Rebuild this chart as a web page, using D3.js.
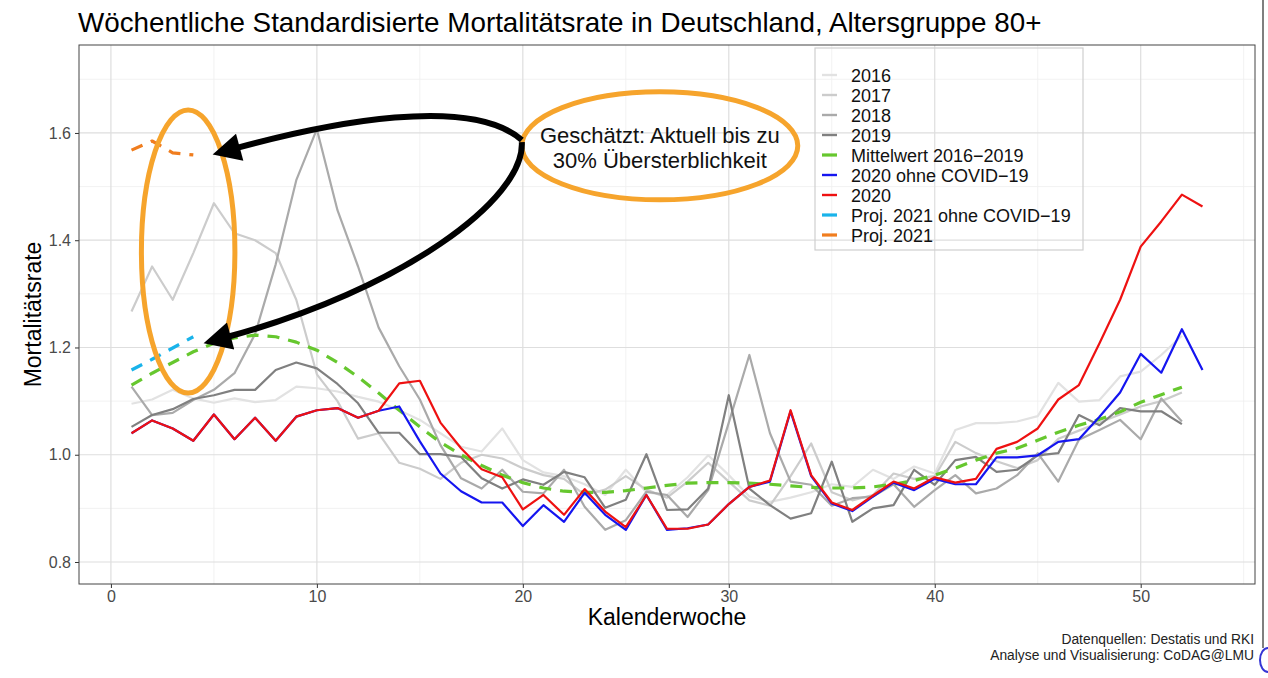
<!DOCTYPE html>
<html><head><meta charset="utf-8">
<script src="https://cdn.jsdelivr.net/npm/d3@7"></script>
<style>
body{margin:0;background:#fff;}
svg{display:block;font-family:"Liberation Sans",Arial,Helvetica,sans-serif;}
</style>
</head><body>
<svg id="chart" width="1268" height="678"></svg>
<script>
// ---------- data ----------
const xTicks = [0, 10, 20, 30, 40, 50];
const yTicks = [0.8, 1.0, 1.2, 1.4, 1.6];
const xMinor = [5, 15, 25, 35, 45, 55];
const yMinor = [0.9, 1.1, 1.3, 1.5, 1.7];

const y2016 = [1.095,1.103,1.121,1.105,1.097,1.105,1.098,1.102,1.127,1.124,1.118,1.108,1.099,1.083,1.065,1.040,1.015,1.006,1.049,0.990,0.967,0.960,0.945,0.925,0.972,0.930,0.925,0.958,0.999,0.962,0.922,0.912,0.920,0.930,0.945,0.940,0.972,0.955,0.978,0.965,1.046,1.059,1.059,1.062,1.072,1.134,1.099,1.102,1.146,1.155,1.186,1.222];
const y2017 = [1.267,1.351,1.289,1.376,1.469,1.413,1.400,1.376,1.289,1.150,1.100,1.030,1.040,0.985,0.974,0.955,0.985,1.000,0.993,0.975,0.962,0.955,0.925,0.935,0.960,0.935,0.920,0.950,0.985,0.950,0.915,0.905,0.960,1.021,0.930,0.915,0.925,0.965,0.955,0.960,1.024,1.003,0.988,0.975,0.990,1.030,1.045,1.060,1.075,1.090,1.100,1.116];
const y2018 = [1.127,1.074,1.078,1.102,1.121,1.152,1.225,1.355,1.512,1.607,1.456,1.351,1.237,1.165,1.103,1.018,0.956,0.937,0.972,0.931,0.928,0.972,0.903,0.860,0.878,0.931,0.925,0.884,0.934,1.060,1.186,1.040,0.950,0.944,0.905,0.919,0.922,0.945,0.903,0.934,0.962,0.928,0.937,0.962,1.003,0.950,1.028,1.046,1.065,1.029,1.105,1.062];
const y2019 = [1.052,1.074,1.085,1.104,1.111,1.121,1.121,1.158,1.172,1.161,1.132,1.096,1.041,1.041,1.001,1.001,0.996,0.956,0.937,0.954,0.944,0.968,0.958,0.901,0.916,1.001,0.897,0.898,0.937,1.111,0.937,0.906,0.881,0.891,0.987,0.875,0.900,0.906,0.972,0.944,0.990,0.996,0.968,0.972,0.999,1.003,1.074,1.055,1.087,1.081,1.081,1.057];
const yMean = [1.130,1.152,1.172,1.192,1.208,1.218,1.223,1.220,1.210,1.195,1.172,1.145,1.115,1.083,1.052,1.023,1.000,0.980,0.962,0.948,0.938,0.932,0.930,0.930,0.933,0.938,0.943,0.947,0.948,0.948,0.947,0.945,0.942,0.939,0.938,0.938,0.940,0.945,0.952,0.962,0.975,0.990,1.003,1.012,1.027,1.042,1.055,1.066,1.080,1.098,1.112,1.126];
const y2020ohne = [1.040,1.064,1.049,1.026,1.075,1.029,1.069,1.026,1.071,1.083,1.087,1.069,1.082,1.090,1.025,0.965,0.932,0.911,0.911,0.867,0.906,0.875,0.929,0.888,0.860,0.925,0.860,0.863,0.870,0.908,0.940,0.950,1.081,0.960,0.909,0.895,0.922,0.948,0.934,0.955,0.945,0.945,0.995,0.995,0.999,1.024,1.029,1.071,1.116,1.188,1.153,1.234,1.158];
const y2020 = [1.040,1.064,1.049,1.026,1.075,1.029,1.069,1.026,1.071,1.083,1.087,1.069,1.082,1.133,1.138,1.060,1.012,0.973,0.958,0.898,0.925,0.888,0.936,0.894,0.865,0.925,0.862,0.862,0.870,0.908,0.940,0.952,1.083,0.962,0.911,0.897,0.924,0.950,0.937,0.958,0.948,0.955,1.011,1.024,1.049,1.103,1.130,1.208,1.289,1.388,1.435,1.485,1.463];
const yProj2021ohne = [1.158,1.178,1.199,1.220];
const yProj2021 = [1.568,1.585,1.563,1.559];

const seriesNames = ["2016","2017","2018","2019","Mittelwert 2016\u22122019","2020 ohne COVID\u221219","2020","Proj. 2021 ohne COVID\u221219","Proj. 2021"];
const seriesColors = ["#e2e2e2","#cccccc","#aaaaaa","#808080","#66c72e","#1515f0","#ee1111","#19b3ea","#f07d1e"];
const seriesData = [y2016,y2017,y2018,y2019,yMean,y2020ohne,y2020,yProj2021ohne,yProj2021];
const seriesDashed = [false,false,false,false,true,false,false,true,true];

const titleText = "W\u00f6chentliche Standardisierte Mortalit\u00e4tsrate in Deutschland, Altersgruppe 80+";
const xLabel = "Kalenderwoche";
const yLabel = "Mortalit\u00e4tsrate";
const captionLines = ["Datenquellen: Destatis und RKI","Analyse und Visualisierung: CoDAG@LMU"];
const noteLines = ["Gesch\u00e4tzt: Aktuell bis zu","30% \u00dcbersterblichkeit"];

// ---------- layout ----------
const svg = d3.select("#chart");
const P = {left:79, right:1255, top:45, bottom:584};
const x = d3.scaleLinear().domain([-1.55,55.55]).range([P.left,P.right]);
const y = d3.scaleLinear().domain([0.759,1.764]).range([P.bottom,P.top]);

// title
svg.append("text").attr("x",78).attr("y",32).attr("font-size",27.8).attr("fill","#000").text(titleText);

// grid
const g = svg.append("g");
g.selectAll(".xm").data(xMinor.filter(v=>x(v)<P.right)).enter().append("line")
 .attr("x1",d=>x(d)).attr("x2",d=>x(d)).attr("y1",P.top).attr("y2",P.bottom)
 .attr("stroke","#efefef").attr("stroke-width",0.8);
g.selectAll(".ym").data(yMinor.filter(v=>y(v)>P.top)).enter().append("line")
 .attr("y1",d=>y(d)).attr("y2",d=>y(d)).attr("x1",P.left).attr("x2",P.right)
 .attr("stroke","#efefef").attr("stroke-width",0.8);
g.selectAll(".xM").data(xTicks).enter().append("line")
 .attr("x1",d=>x(d)).attr("x2",d=>x(d)).attr("y1",P.top).attr("y2",P.bottom)
 .attr("stroke","#dedede").attr("stroke-width",1.2);
g.selectAll(".yM").data(yTicks).enter().append("line")
 .attr("y1",d=>y(d)).attr("y2",d=>y(d)).attr("x1",P.left).attr("x2",P.right)
 .attr("stroke","#dedede").attr("stroke-width",1.2);

// axes
const xAxis = d3.axisBottom(x).tickValues(xTicks).tickSize(4).tickPadding(3).tickFormat(d3.format("d"));
const yAxis = d3.axisLeft(y).tickValues(yTicks).tickSize(4).tickPadding(4).tickFormat(d3.format(".1f"));
const gx = svg.append("g").attr("transform",`translate(0,${P.bottom})`).call(xAxis);
const gy = svg.append("g").attr("transform",`translate(${P.left},0)`).call(yAxis);
[gx,gy].forEach(a=>{
  a.select(".domain").remove();
  a.selectAll(".tick line").attr("stroke","#333");
  a.selectAll(".tick text").attr("font-size",16).attr("fill","#4a4a4a").attr("font-family","Liberation Sans, Arial, sans-serif");
});

// series
const line = d3.line().x((d,i)=>x(i+1)).y(d=>y(d));
const clipId = "pclip";
svg.append("clipPath").attr("id",clipId).append("rect")
  .attr("x",P.left).attr("y",P.top).attr("width",P.right-P.left).attr("height",P.bottom-P.top);
const sg = svg.append("g").attr("clip-path",`url(#${clipId})`);
seriesData.forEach((arr,i)=>{
  sg.append("path").datum(arr).attr("d",line).attr("fill","none")
    .attr("stroke",seriesColors[i])
    .attr("stroke-width",seriesDashed[i]?3.2:2.2)
    .attr("stroke-linejoin","round")
    .attr("stroke-dasharray",seriesDashed[i]?"12,9":null);
});

// panel border
svg.append("rect").attr("x",P.left).attr("y",P.top).attr("width",P.right-P.left).attr("height",P.bottom-P.top)
  .attr("fill","none").attr("stroke","#444").attr("stroke-width",1);

// axis titles
svg.append("text").attr("x",(P.left+P.right)/2).attr("y",625).attr("text-anchor","middle")
  .attr("font-size",23).text(xLabel);
svg.append("text").attr("transform",`translate(41,${(P.top+P.bottom)/2}) rotate(-90)`)
  .attr("text-anchor","middle").attr("font-size",23).text(yLabel);

// legend
const L = {x:815, y:48, w:268, h:202};
const lg = svg.append("g");
lg.append("rect").attr("x",L.x).attr("y",L.y).attr("width",L.w).attr("height",L.h)
  .attr("fill","none").attr("stroke","#cfcfcf").attr("stroke-width",1.2);
seriesNames.forEach((n,i)=>{
  const yy = 75 + i*20;
  lg.append("line").attr("x1",822).attr("x2",837).attr("y1",yy).attr("y2",yy)
    .attr("stroke",seriesColors[i]).attr("stroke-width",seriesDashed[i]?3.2:2.4);
  lg.append("text").attr("x",851).attr("y",yy+6.5).attr("font-size",18).attr("fill","#111").text(n);
});

// annotations (defined in data units)
const orange = "#f6a42c";
const ellipses = [
  {cx:3.75, cy:1.379, rx:2.27, ry:0.264},
  {cx:26.65, cy:1.576, rx:6.7, ry:0.1007}
];
ellipses.forEach(e=>{
  svg.append("ellipse").attr("cx",x(e.cx)).attr("cy",y(e.cy))
    .attr("rx",x(e.cx+e.rx)-x(e.cx)).attr("ry",y(e.cy-e.ry)-y(e.cy))
    .attr("fill", "none").attr("stroke",orange).attr("stroke-width",5);
});
noteLines.forEach((t,i)=>{
  svg.append("text").attr("x",x(26.65)).attr("y",143+i*25).attr("text-anchor","middle")
    .attr("font-size",22).attr("fill","#111").text(t);
});

svg.append("defs").append("marker").attr("id","arr").attr("viewBox","0 0 10 10")
  .attr("refX",1).attr("refY",5).attr("markerWidth",30).attr("markerHeight",28)
  .attr("markerUnits","userSpaceOnUse").attr("orient","auto")
  .append("path").attr("d","M0,0 L10,5 L0,10 z").attr("fill","#000");
const arrows = [
  [[19.95,1.587],[17.43,1.671],[10.63,1.619],[6.12,1.572]],
  [[19.95,1.583],[20.10,1.475],[14.03,1.307],[5.68,1.220]]
];
arrows.forEach(a=>{
  const p = a.map(d=>[x(d[0]),y(d[1])]);
  svg.append("path")
    .attr("d",`M${p[0]}C${p[1]} ${p[2]} ${p[3]}`)
    .attr("fill","none").attr("stroke","#000").attr("stroke-width",6)
    .attr("marker-end","url(#arr)");
});

// caption
captionLines.forEach((t,i)=>{
  svg.append("text").attr("x",1254).attr("y",644+i*16).attr("text-anchor","end")
    .attr("font-size",13.8).attr("fill","#222").text(t);
});

// frame edge at right
svg.append("line").attr("x1",1263).attr("x2",1263).attr("y1",0).attr("y2",648)
  .attr("stroke","#555").attr("stroke-width",1.5);
svg.append("path").attr("d","M1268,648 A8,12 0 0 0 1268,672").attr("fill","none")
  .attr("stroke","#3535d5").attr("stroke-width",2);
</script>
</body></html>
